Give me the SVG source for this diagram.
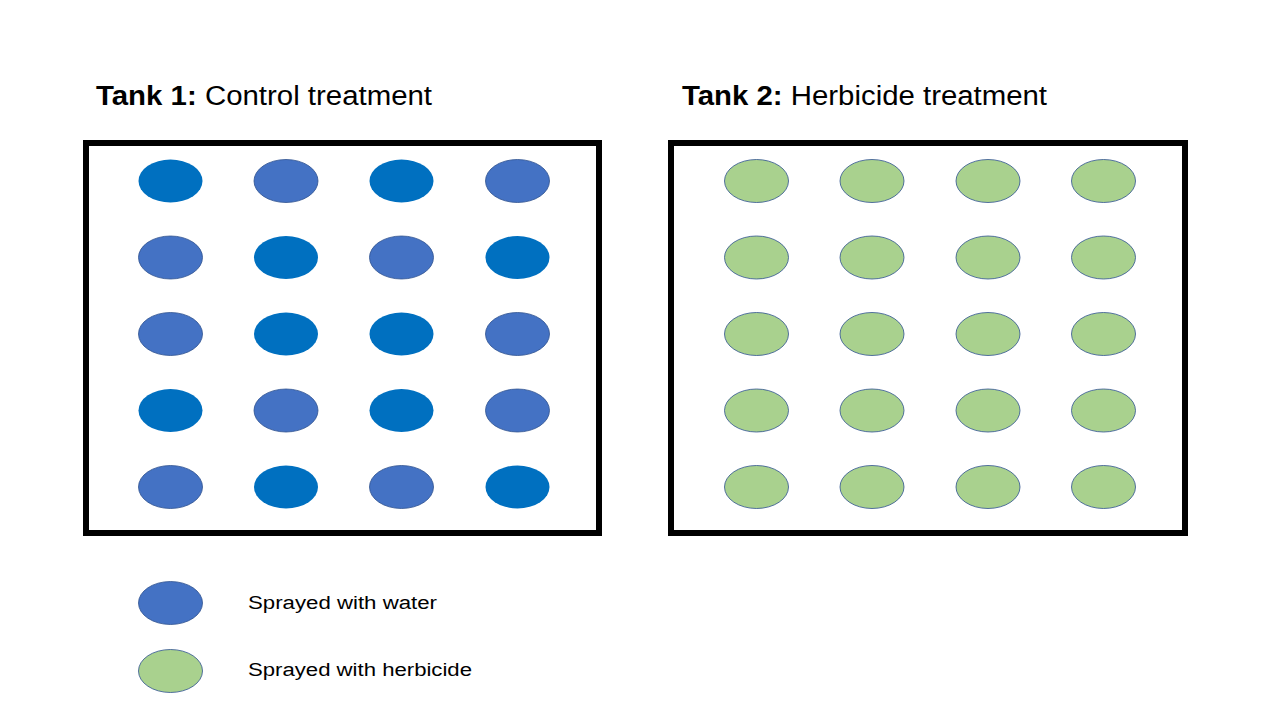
<svg xmlns="http://www.w3.org/2000/svg" width="1280" height="720" viewBox="0 0 1280 720">
<style>
.tank{fill:none;stroke:#000;stroke-width:6}
.d{fill:#0070C0}
.l{fill:#4472C4;stroke:#2F528F;stroke-width:0.8}
.g{fill:#A9D18E;stroke:#2F528F;stroke-width:0.8}
.t{font-family:"Liberation Sans",Arial,sans-serif;font-size:27px;fill:#000}
.lg{font-family:"Liberation Sans",Arial,sans-serif;font-size:18px;fill:#000}
</style>
<rect width="1280" height="720" fill="#fff"/>
<g id="tank1">
<text class="t" x="96" y="105" textLength="336" lengthAdjust="spacingAndGlyphs"><tspan font-weight="bold">Tank 1:</tspan> Control treatment</text>
<rect class="tank" x="86" y="143" width="513" height="390"/>
<ellipse class="d" cx="170.5" cy="181" rx="32" ry="21.5"/>
<ellipse class="l" cx="286" cy="181" rx="32" ry="21.5"/>
<ellipse class="d" cx="401.5" cy="181" rx="32" ry="21.5"/>
<ellipse class="l" cx="517.5" cy="181" rx="32" ry="21.5"/>
<ellipse class="l" cx="170.5" cy="257.5" rx="32" ry="21.5"/>
<ellipse class="d" cx="286" cy="257.5" rx="32" ry="21.5"/>
<ellipse class="l" cx="401.5" cy="257.5" rx="32" ry="21.5"/>
<ellipse class="d" cx="517.5" cy="257.5" rx="32" ry="21.5"/>
<ellipse class="l" cx="170.5" cy="334" rx="32" ry="21.5"/>
<ellipse class="d" cx="286" cy="334" rx="32" ry="21.5"/>
<ellipse class="d" cx="401.5" cy="334" rx="32" ry="21.5"/>
<ellipse class="l" cx="517.5" cy="334" rx="32" ry="21.5"/>
<ellipse class="d" cx="170.5" cy="410.5" rx="32" ry="21.5"/>
<ellipse class="l" cx="286" cy="410.5" rx="32" ry="21.5"/>
<ellipse class="d" cx="401.5" cy="410.5" rx="32" ry="21.5"/>
<ellipse class="l" cx="517.5" cy="410.5" rx="32" ry="21.5"/>
<ellipse class="l" cx="170.5" cy="487" rx="32" ry="21.5"/>
<ellipse class="d" cx="286" cy="487" rx="32" ry="21.5"/>
<ellipse class="l" cx="401.5" cy="487" rx="32" ry="21.5"/>
<ellipse class="d" cx="517.5" cy="487" rx="32" ry="21.5"/>
</g>
<g id="tank2">
<text class="t" x="682" y="105" textLength="365" lengthAdjust="spacingAndGlyphs"><tspan font-weight="bold">Tank 2:</tspan> Herbicide treatment</text>
<rect class="tank" x="671" y="143" width="514" height="390"/>
<ellipse class="g" cx="756.5" cy="181" rx="32" ry="21.5"/>
<ellipse class="g" cx="872" cy="181" rx="32" ry="21.5"/>
<ellipse class="g" cx="988" cy="181" rx="32" ry="21.5"/>
<ellipse class="g" cx="1103.5" cy="181" rx="32" ry="21.5"/>
<ellipse class="g" cx="756.5" cy="257.5" rx="32" ry="21.5"/>
<ellipse class="g" cx="872" cy="257.5" rx="32" ry="21.5"/>
<ellipse class="g" cx="988" cy="257.5" rx="32" ry="21.5"/>
<ellipse class="g" cx="1103.5" cy="257.5" rx="32" ry="21.5"/>
<ellipse class="g" cx="756.5" cy="334" rx="32" ry="21.5"/>
<ellipse class="g" cx="872" cy="334" rx="32" ry="21.5"/>
<ellipse class="g" cx="988" cy="334" rx="32" ry="21.5"/>
<ellipse class="g" cx="1103.5" cy="334" rx="32" ry="21.5"/>
<ellipse class="g" cx="756.5" cy="410.5" rx="32" ry="21.5"/>
<ellipse class="g" cx="872" cy="410.5" rx="32" ry="21.5"/>
<ellipse class="g" cx="988" cy="410.5" rx="32" ry="21.5"/>
<ellipse class="g" cx="1103.5" cy="410.5" rx="32" ry="21.5"/>
<ellipse class="g" cx="756.5" cy="487" rx="32" ry="21.5"/>
<ellipse class="g" cx="872" cy="487" rx="32" ry="21.5"/>
<ellipse class="g" cx="988" cy="487" rx="32" ry="21.5"/>
<ellipse class="g" cx="1103.5" cy="487" rx="32" ry="21.5"/>
</g>
<g id="legend-water">
<ellipse class="l" cx="170.5" cy="603" rx="32" ry="21.5"/>
<text class="lg" x="248" y="609" textLength="189" lengthAdjust="spacingAndGlyphs">Sprayed with water</text>
</g>
<g id="legend-herbicide">
<ellipse class="g" cx="170.5" cy="671" rx="32" ry="21.5"/>
<text class="lg" x="248" y="676" textLength="224" lengthAdjust="spacingAndGlyphs">Sprayed with herbicide</text>
</g>
<g id="connectors"/>
</svg>
